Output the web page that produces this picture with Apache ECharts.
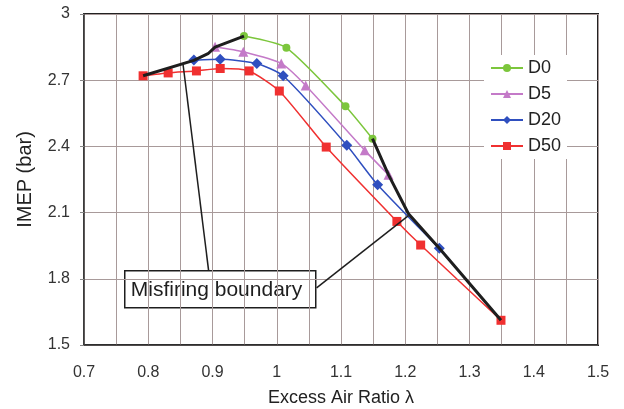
<!DOCTYPE html>
<html><head><meta charset="utf-8">
<script src="https://cdn.jsdelivr.net/npm/echarts@6/dist/echarts.min.js"></script>
<style>html,body{margin:0;padding:0;background:#fff}#c{width:624px;height:409px}</style>
</head><body><div id="c"></div>
<script>
// Series data (lambda, IMEP in bar)
const d0X = [0.949, 1.015, 1.107, 1.149];
const d0Y = [2.900, 2.847, 2.582, 2.435];
const d5X = [0.904, 0.948, 1.007, 1.045, 1.137, 1.174];
const d5Y = [2.852, 2.829, 2.776, 2.676, 2.382, 2.271];
const d20X = [0.871, 0.912, 0.969, 1.010, 1.109, 1.157, 1.253];
const d20Y = [2.791, 2.795, 2.776, 2.720, 2.405, 2.226, 1.938];
const d50X = [0.792, 0.831, 0.875, 0.912, 0.957, 1.004, 1.077, 1.187, 1.224, 1.349];
const d50Y = [2.720, 2.733, 2.742, 2.753, 2.742, 2.651, 2.397, 2.060, 1.953, 1.612];
// Misfiring boundary (two branches)
const bndLeftX = [0.792, 0.871, 0.893, 0.904, 0.949];
const bndLeftY = [2.720, 2.790, 2.820, 2.850, 2.900];
const bndRightX = [1.149, 1.174, 1.205, 1.253, 1.349];
const bndRightY = [2.435, 2.271, 2.095, 1.938, 1.612];
// Annotation leader lines
const leader1X = [0.854, 0.894];
const leader1Y = [2.776, 1.836];
const leader2X = [1.062, 1.205];
const leader2Y = [1.759, 2.086];
const xTicks = [0.7, 0.8, 0.9, 1, 1.1, 1.2, 1.3, 1.4, 1.5];
const yTicks = [1.5, 1.8, 2.1, 2.4, 2.7, 3];

const zip = (xs, ys) => xs.map((x, i) => [x, ys[i]]);
const font = 'Liberation Sans, Arial, sans-serif';
const chart = echarts.init(document.getElementById('c'), null, {renderer: 'canvas'});

function dataSeries(name, xs, ys, color, symbol, size) {
  return {
    name, type: 'line', data: zip(xs, ys), smooth: 0.2,
    symbol, symbolSize: size,
    lineStyle: {color, width: 1.5},
    itemStyle: {color},
    z: 3
  };
}
function plainLine(xs, ys, width, z) {
  return {
    type: 'line', data: zip(xs, ys), symbol: 'none', silent: true,
    lineStyle: {color: '#1e1e1e', width}, z, smooth: false
  };
}

chart.setOption({
  animation: false,
  backgroundColor: '#fff',
  grid: {left: 84, right: 26, top: 14, bottom: 64, show: true, borderColor: '#222', borderWidth: 2,
         containLabel: false, outerBoundsMode: 'none'},
  legend: {
    orient: 'vertical', left: 484, top: 55,
    data: ['D0', 'D5', 'D20', 'D50'],
    itemWidth: 32, itemHeight: 10, itemGap: 8,
    backgroundColor: '#fff', padding: [4, 6],
    textStyle: {fontFamily: font, fontSize: 18, color: '#222', lineHeight: 18}
  },
  xAxis: {
    type: 'value', min: 0.7, max: 1.5, interval: 0.05,
    name: 'Excess Air Ratio λ', nameLocation: 'middle', nameGap: 44,
    nameTextStyle: {fontFamily: font, fontSize: 18, color: '#222'},
    axisLine: {show: true, onZero: false, lineStyle: {color: '#333', width: 1.5}},
    axisTick: {show: false},
    axisLabel: {
      fontFamily: font, fontSize: 16, color: '#333', margin: 20,
      formatter: v => {
        const r = Math.round(v * 100);
        if (r % 10 !== 0) return '';
        const t = xTicks.find(k => Math.abs(k - v) < 1e-6);
        return t === undefined ? '' : String(t);
      }
    },
    splitLine: {show: true, lineStyle: {color: '#a89a9a', width: 1}}
  },
  yAxis: {
    type: 'value', min: 1.5, max: 3, interval: 0.3,
    name: 'IMEP (bar)', nameLocation: 'middle', nameGap: 49,
    nameTextStyle: {fontFamily: font, fontSize: 20, color: '#222'},
    axisLine: {show: true, lineStyle: {color: '#444', width: 1.5}},
    axisTick: {show: true, length: 4, lineStyle: {color: '#888'}},
    axisLabel: {
      fontFamily: font, fontSize: 16, color: '#333', margin: 14,
      formatter: v => {
        const t = yTicks.find(k => Math.abs(k - v) < 1e-6);
        return t === undefined ? '' : String(t);
      }
    },
    splitLine: {show: true, lineStyle: {color: '#a89a9a', width: 1}}
  },
  graphic: [{
    type: 'group', left: 124, top: 270, z: 10,
    children: [
      {type: 'rect', shape: {x: 0, y: 0, width: 191, height: 37},
       style: {fill: '#fff', stroke: '#1e1e1e', lineWidth: 1.5}},
      {type: 'text', x: 6, y: 19,
       style: {text: 'Misfiring boundary', fontFamily: font, fontSize: 21, fill: '#1e1e1e', verticalAlign: 'middle'}}
    ]
  }],
  series: [
    dataSeries('D0', d0X, d0Y, '#7cc63c', 'circle', 8),
    dataSeries('D5', d5X, d5Y, '#c47ac8', 'triangle', 10),
    dataSeries('D20', d20X, d20Y, '#2f4fbf', 'diamond', 11),
    dataSeries('D50', d50X, d50Y, '#f03030', 'rect', 9),
    plainLine(bndLeftX, bndLeftY, 3, 4),
    plainLine(bndRightX, bndRightY, 3, 4),
    plainLine(leader1X, leader1Y, 1.5, 5),
    plainLine(leader2X, leader2Y, 1.5, 5)
  ]
});
</script>
</body></html>
